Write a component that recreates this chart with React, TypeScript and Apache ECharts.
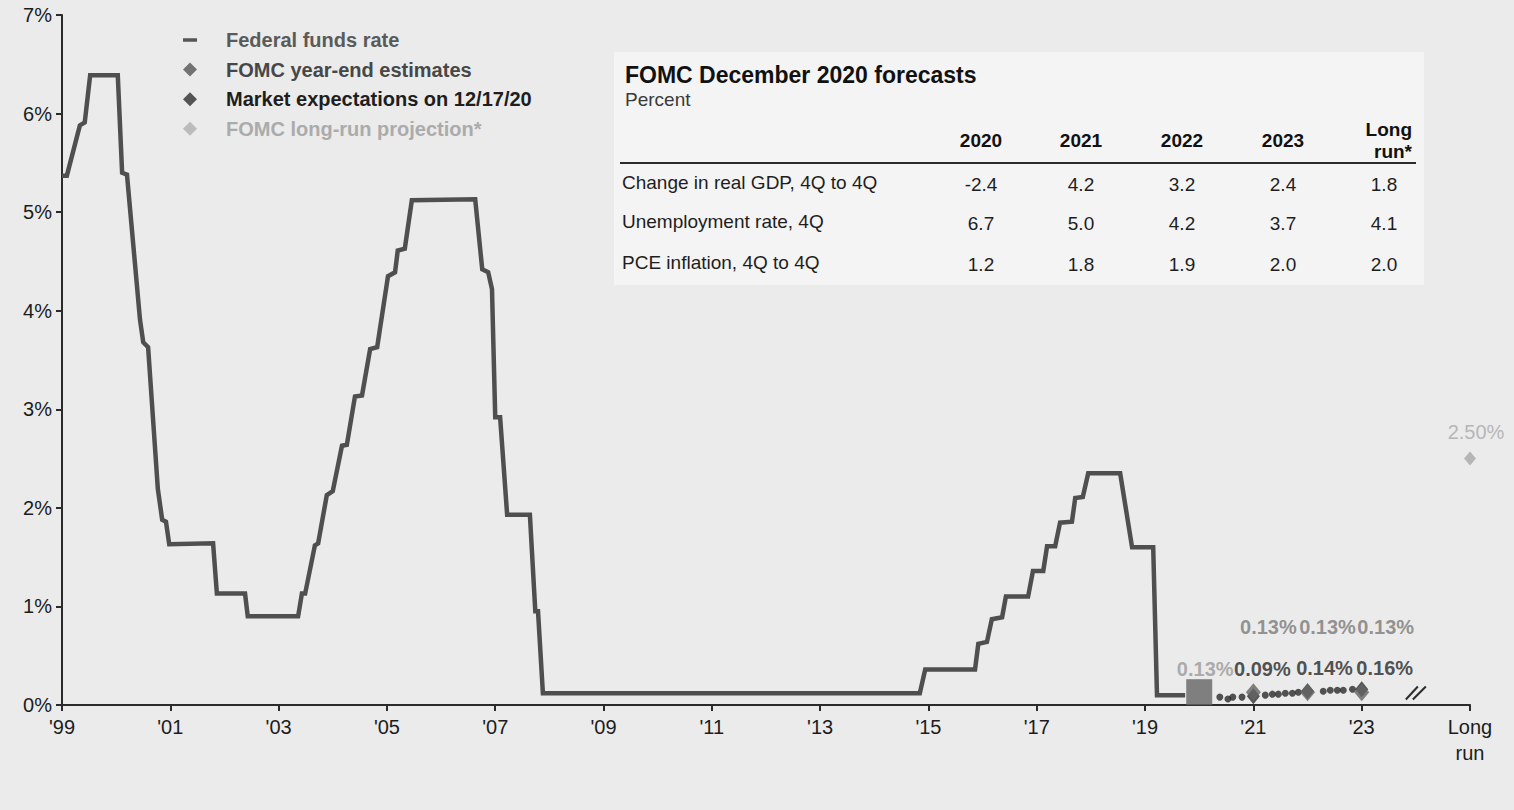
import React, { useEffect, useRef } from 'react';
import * as echarts from 'echarts';

// ---------- data ----------
const BASE_YEAR = 1999;
const xTickLabels = ["'99", "'01", "'03", "'05", "'07", "'09", "'11", "'13", "'15", "'17", "'19", "'21", "'23", 'Long\nrun'];
const yTickLabels = ['0%', '1%', '2%', '3%', '4%', '5%', '6%', '7%'];

const ffDates = [
  1999.0, 1999.09, 1999.33, 1999.42, 1999.52, 2000.03, 2000.11, 2000.2, 2000.44, 2000.5,
  2000.59, 2000.77, 2000.85, 2000.92, 2000.98, 2001.79, 2001.86, 2002.38, 2002.43, 2003.36,
  2003.43, 2003.49, 2003.67, 2003.73, 2003.89, 2004.0, 2004.17, 2004.26, 2004.41, 2004.54,
  2004.69, 2004.82, 2005.02, 2005.15, 2005.2, 2005.33, 2005.46, 2006.63, 2006.76, 2006.87,
  2006.94, 2007.0, 2007.09, 2007.22, 2007.64, 2007.74, 2007.79, 2007.88, 2014.84, 2014.94,
  2015.86, 2015.92, 2016.08, 2016.17, 2016.36, 2016.43, 2016.84, 2016.93, 2017.12, 2017.19,
  2017.34, 2017.43, 2017.65, 2017.71, 2017.85, 2017.95, 2018.54, 2018.76, 2019.15, 2019.22,
  2019.74,
];
const ffRates = [
  5.37, 5.37, 5.88, 5.91, 6.39, 6.39, 5.4, 5.38, 3.91, 3.68,
  3.63, 2.19, 1.88, 1.86, 1.63, 1.64, 1.13, 1.13, 0.9, 0.9,
  1.13, 1.13, 1.62, 1.64, 2.13, 2.17, 2.63, 2.64, 3.13, 3.14,
  3.61, 3.63, 4.35, 4.39, 4.61, 4.63, 5.12, 5.13, 4.42, 4.39,
  4.22, 2.92, 2.92, 1.93, 1.93, 0.95, 0.95, 0.12, 0.12, 0.36,
  0.36, 0.62, 0.64, 0.87, 0.89, 1.1, 1.1, 1.36, 1.36, 1.61,
  1.61, 1.85, 1.86, 2.1, 2.11, 2.35, 2.35, 1.6, 1.6, 0.1,
  0.1,
];

const fomcYears = [2020, 2021, 2022, 2023];
const fomcRates = [0.13, 0.13, 0.13, 0.13];
const marketYears = [2021, 2022, 2023];
const marketRates = [0.09, 0.14, 0.16];
const marketPathDates = [2020.38, 2020.53, 2020.62, 2020.79, 2021.22, 2021.35, 2021.46, 2021.59, 2021.72, 2021.83, 2022.29, 2022.42, 2022.55, 2022.66, 2022.83];
const marketPathRates = [0.08, 0.06, 0.08, 0.08, 0.1, 0.11, 0.11, 0.12, 0.12, 0.13, 0.14, 0.15, 0.15, 0.15, 0.16];
const longRunSlot = 2025;
const longRunRate = 2.5;

const legendNames = ['Federal funds rate', 'FOMC year-end estimates', 'Market expectations on 12/17/20', 'FOMC long-run projection*'];

const tableTitle = 'FOMC December 2020 forecasts';
const tableUnit = 'Percent';
const tableColumns = ['2020', '2021', '2022', '2023', 'Long\nrun*'];
const tableRowLabels = ['Change in real GDP, 4Q to 4Q', 'Unemployment rate, 4Q', 'PCE inflation, 4Q to 4Q'];
const gdpForecast = ['-2.4', '4.2', '3.2', '2.4', '1.8'];
const unemploymentForecast = ['6.7', '5.0', '4.2', '3.7', '4.1'];
const pceForecast = ['1.2', '1.8', '1.9', '2.0', '2.0'];

// ---------- styles ----------
const FONT = '"Liberation Sans", Arial, Helvetica, sans-serif';
const fomcLabelStyle = [
  { distance: 0, offset: [6, 0], color: '#9a9a9a' },
  { distance: 46, offset: [15, 0], color: '#7a7a7a' },
  { distance: 46, offset: [20, 0], color: '#7a7a7a' },
  { distance: 46, offset: [24, 0], color: '#7a7a7a' },
];
const marketLabelStyle = [
  { distance: 9, offset: [9, 0] },
  { distance: 5, offset: [17, 0] },
  { distance: 3, offset: [23, 0] },
];

export default function App() {
  const ref = useRef<HTMLDivElement>(null);

  useEffect(() => {
    const el = ref.current;
    if (!el) return;
    const chart = echarts.init(el, null, { renderer: 'svg' });
    const toX = (t: number) => +(t - BASE_YEAR).toFixed(3);
    const pct = (p: any) => (p.value[1] as number).toFixed(2) + '%';

    const option: any = {
      animation: false,
      backgroundColor: '#ebebeb',
      grid: { left: 62, right: 44, top: 15, bottom: 105, containLabel: false },
      legend: {
        orient: 'vertical',
        left: 178,
        top: 25,
        itemWidth: 14,
        itemHeight: 14,
        itemGap: 9.6,
        selectedMode: false,
        textStyle: { fontSize: 20, fontWeight: 'bold', fontFamily: FONT, lineHeight: 20, padding: [0, 0, 0, 24] },
        data: [
          { name: legendNames[0], icon: 'path://M0,0H14V3.5H0Z', itemStyle: { color: '#555555' }, textStyle: { color: '#5a5a5a' } },
          { name: legendNames[1], icon: 'diamond', itemStyle: { color: '#555555' }, textStyle: { color: '#474747' } },
          { name: legendNames[2], icon: 'diamond', itemStyle: { color: '#2e2e2e' }, textStyle: { color: '#1e1e1e' } },
          { name: legendNames[3], icon: 'diamond', itemStyle: { color: '#b0b0b0' }, textStyle: { color: '#ababab' } },
        ],
      },
      xAxis: {
        type: 'value',
        min: 0,
        max: (longRunSlot - BASE_YEAR),
        interval: 2,
        splitLine: { show: false },
        axisLine: { show: true, lineStyle: { color: '#2b2b2b', width: 2 } },
        axisTick: { show: true, length: 6, lineStyle: { color: '#2b2b2b', width: 2 } },
        axisLabel: {
          margin: 9,
          fontSize: 20,
          lineHeight: 26,
          fontFamily: FONT,
          color: '#1c1c1c',
          formatter: (v: number) => xTickLabels[Math.round(v / 2)] ?? '',
        },
      },
      yAxis: {
        type: 'value',
        min: 0,
        max: 7,
        interval: 1,
        splitLine: { show: false },
        axisLine: { show: true, lineStyle: { color: '#2b2b2b', width: 2 } },
        axisTick: { show: true, length: 6, lineStyle: { color: '#2b2b2b', width: 2 } },
        axisLabel: {
          margin: 10,
          fontSize: 20,
          fontFamily: FONT,
          color: '#1c1c1c',
          formatter: (v: number) => yTickLabels[Math.round(v)] ?? '',
        },
      },
      series: [
        {
          name: legendNames[0],
          type: 'line',
          data: ffDates.map((d, i) => [toX(d), ffRates[i]]),
          symbol: 'none',
          showSymbol: false,
          lineStyle: { color: '#4f4f4f', width: 4.5, join: 'miter' },
          itemStyle: { color: '#4f4f4f' },
          z: 2,
          silent: true,
        },
        {
          name: 'Market path',
          type: 'scatter',
          data: marketPathDates.map((d, i) => [toX(d), marketPathRates[i]]),
          symbol: 'circle',
          symbolSize: 7,
          itemStyle: { color: '#2a2a2a' },
          z: 3,
          silent: true,
        },
        {
          name: legendNames[2],
          type: 'scatter',
          data: marketYears.map((y, i) => ({
            value: [toX(y), marketRates[i]],
            label: { distance: marketLabelStyle[i].distance, offset: marketLabelStyle[i].offset },
          })),
          symbol: 'diamond',
          symbolSize: [13, 16],
          itemStyle: { color: '#2e2e2e' },
          label: {
            show: true,
            position: 'top',
            fontSize: 20,
            fontWeight: 'bold',
            fontFamily: FONT,
            color: '#262626',
            formatter: pct,
          },
          z: 3,
          silent: true,
        },
        {
          name: legendNames[1],
          type: 'scatter',
          data: fomcYears.map((y, i) => ({
            value: [toX(y), fomcRates[i]],
            symbol: i === 0 ? 'rect' : 'diamond',
            symbolSize: i === 0 ? 26 : [15, 18],
            label: {
              distance: fomcLabelStyle[i].distance,
              offset: fomcLabelStyle[i].offset,
              color: fomcLabelStyle[i].color,
            },
          })),
          itemStyle: { color: '#646464' },
          label: {
            show: true,
            position: 'top',
            fontSize: 20,
            fontWeight: 'bold',
            fontFamily: FONT,
            formatter: pct,
          },
          z: 4,
          silent: true,
        },
        {
          name: legendNames[3],
          type: 'scatter',
          data: [[toX(longRunSlot), longRunRate]],
          symbol: 'diamond',
          symbolSize: [12, 14],
          itemStyle: { color: '#a9a9a9' },
          label: {
            show: true,
            position: 'top',
            distance: 10,
            offset: [6, 0],
            fontSize: 20,
            fontFamily: FONT,
            color: '#a8a8a8',
            formatter: pct,
          },
          z: 3,
          silent: true,
        },
      ],
    };
    chart.setOption(option);

    // table graphics
    const colCenters = [981, 1081, 1182, 1283, 1384];
    const rowYs = [183, 222, 263];
    const rowValues = [gdpForecast, unemploymentForecast, pceForecast];
    const graphics: any[] = [
      { type: 'rect', shape: { x: 614, y: 52, width: 810, height: 233 }, style: { fill: '#f4f4f4' }, z: 0, silent: true },
      {
        type: 'text', x: 625, y: 75, silent: true,
        style: { text: tableTitle, fill: '#111', fontSize: 23, fontWeight: 'bold', fontFamily: FONT, textAlign: 'left', textVerticalAlign: 'middle' },
      },
      {
        type: 'text', x: 625, y: 99, silent: true,
        style: { text: tableUnit, fill: '#3a3a3a', fontSize: 19, fontFamily: FONT, textAlign: 'left', textVerticalAlign: 'middle' },
      },
      {
        type: 'line', silent: true,
        shape: { x1: 620, y1: 163, x2: 1416, y2: 163 },
        style: { stroke: '#2b2b2b', lineWidth: 2 },
      },
    ];
    tableColumns.forEach((c, i) => {
      const isLong = c.indexOf('\n') >= 0;
      graphics.push({
        type: 'text', x: isLong ? 1412 : colCenters[i], y: 140, silent: true,
        style: {
          text: c, fill: '#111', fontSize: 19, fontWeight: 'bold', fontFamily: FONT, lineHeight: 22,
          textAlign: isLong ? 'right' : 'center', textVerticalAlign: 'middle',
        },
      });
    });
    tableRowLabels.forEach((lab, r) => {
      graphics.push({
        type: 'text', x: 622, y: rowYs[r] - 1, silent: true,
        style: { text: lab, fill: '#1e1e1e', fontSize: 19, fontFamily: FONT, textAlign: 'left', textVerticalAlign: 'middle' },
      });
      rowValues[r].forEach((v, c) => {
        graphics.push({
          type: 'text', x: colCenters[c], y: rowYs[r] + 1, silent: true,
          style: { text: v, fill: '#1e1e1e', fontSize: 19, fontFamily: FONT, textAlign: 'center', textVerticalAlign: 'middle' },
        });
      });
    });

    // axis break marks "//" between '23 and Long run
    const bp = chart.convertToPixel({ gridIndex: 0 }, [toX(2024), 0]) as number[];
    if (bp && isFinite(bp[0])) {
      const cx = bp[0] + 1;
      const cy = bp[1] - 12;
      graphics.push(
        { type: 'line', silent: true, shape: { x1: cx - 11, y1: cy + 6.5, x2: cx + 1, y2: cy - 6.5 }, style: { stroke: '#2b2b2b', lineWidth: 2 } },
        { type: 'line', silent: true, shape: { x1: cx - 4, y1: cy + 6.5, x2: cx + 9, y2: cy - 6.5 }, style: { stroke: '#2b2b2b', lineWidth: 2 } },
      );
    }
    chart.setOption({ graphic: graphics });

    return () => chart.dispose();
  }, []);

  return (
    <div
      ref={ref}
      style={{ position: 'fixed', left: 0, top: 0, width: 1514, height: 810, background: '#ebebeb' }}
    />
  );
}
